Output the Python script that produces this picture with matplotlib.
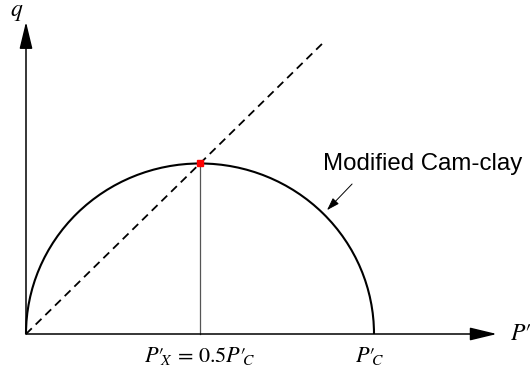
"""Modified Cam-clay yield surface in p'-q space."""

import matplotlib

matplotlib.use("Agg")
import matplotlib.pyplot as plt
from matplotlib.patches import Arc

# yield surface / critical state parameters (normalised by p'_c)
pc = 1.0
M = 0.98
csl_end = 0.86  # how far the CSL is drawn along p'
axis_ends = (1.353, 0.897)  # arrow tips for p' and q axes

apex_p = 0.5 * pc
apex_q = 0.5 * M * pc

plt.rcParams["mathtext.fontset"] = "stix"
plt.rcParams["font.family"] = ["Liberation Sans", "DejaVu Sans"]

fig = plt.figure(figsize=(5.31, 3.70), dpi=100)
ax = fig.add_axes([0, 0, 1, 1])
px = 348.0  # pixels per unit
ax.set_xlim(-26 / px, 505 / px)
ax.set_ylim(-36 / px, 334 / px)
ax.axis("off")

arrow = dict(arrowstyle="-|>,head_length=0.83,head_width=0.2",
             color="black", lw=1.1, mutation_scale=20, shrinkA=0, shrinkB=0)
ax.annotate("", xy=(axis_ends[0], 0), xytext=(0, 0), arrowprops=arrow)
ax.annotate("", xy=(0, axis_ends[1]), xytext=(0, 0), arrowprops=arrow)

# yield ellipse
ax.add_patch(Arc((apex_p, 0), width=pc, height=2 * apex_q,
                 theta1=0, theta2=180, color="black", lw=1.5))

# critical state line
ax.plot([0, csl_end], [0, M * csl_end], color="black", lw=1.3,
        dashes=(4.5, 3))

ax.plot([apex_p, apex_p], [0, apex_q], color="#555555", lw=0.9)
ax.plot(apex_p, apex_q, marker="s", ms=4, color="red", mec="red")

# label + pointer to the yield surface
ax.text(0.853, 0.489, "Modified Cam-clay", fontsize=17.3, va="center",
        ha="left")
ax.annotate("", xy=(0.865, 0.356), xytext=(0.937, 0.431),
            arrowprops=dict(arrowstyle="-|>,head_length=0.55,head_width=0.18",
                            color="black", lw=0.7, mutation_scale=14,
                            shrinkA=0, shrinkB=0))

ax.text(-9 / px, 322 / px, "$q$", fontsize=17, ha="center", va="center")
ax.text(484 / px, 0, "$P′$", fontsize=17, ha="left", va="center")
ax.text(apex_p, -22 / px, r"$P′_{\!\!X}\,=\,0.5P′_{\!\!C}$", fontsize=16,
        ha="center", va="center")
ax.text(pc - 4 / px, -22 / px, r"$P′_{\!\!C}$", fontsize=16,
        ha="center", va="center")

fig.savefig("out.png", dpi=100)
